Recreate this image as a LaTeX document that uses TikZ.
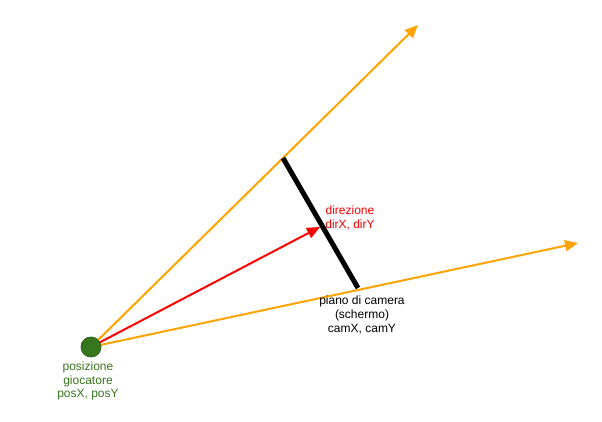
\documentclass[tikz,border=0pt]{standalone}
\usepackage{fontspec}
\setmainfont{Liberation Sans}
\usetikzlibrary{arrows.meta}
\definecolor{ray}{RGB}{255,163,0}
\definecolor{pgreen}{RGB}{56,118,29}
\definecolor{dirred}{RGB}{255,0,0}
\tikzset{
  rayline/.style={draw=ray, line width=2pt, -{Triangle[length=13pt,width=11pt]}},
  dirline/.style={draw=dirred, line width=2pt, -{Triangle[length=13pt,width=11pt]}},
  planeline/.style={draw=black, line width=5pt},
  lbl/.style={align=center, font=\fontsize{12}{13.6}\selectfont, inner sep=0pt},
}
\begin{document}
\begin{tikzpicture}[x=1pt,y=-1pt]
\useasboundingbox (0,0) rectangle (602,422);
\coordinate (t1) at (418,25);
\coordinate (t2) at (578,243);
\coordinate (td) at (320,227);
\coordinate (pa) at (283,158);
\coordinate (pb) at (358,288);
\node[circle, fill=pgreen, draw=pgreen!80!black, line width=0.5pt, minimum size=20pt, inner sep=0pt] (p) at (91,347) {};
\draw[rayline] (p.center) -- (t1);
\draw[rayline] (p.center) -- (t2);
\draw[dirline] (p.center) -- (td);
\node[circle, fill=pgreen, draw=pgreen!80!black, line width=0.5pt, minimum size=20pt, inner sep=0pt] at (p) {};
\draw[planeline] (pa) -- (pb);
\node[lbl, text=dirred] (ld) at (350,218) {direzione\\dirX, dirY};
\node[lbl, text=black] (lc) at (362,315) {piano di camera\\(schermo)\\camX, camY};
\node[lbl, text=pgreen] (lp) at (88,381) {posizione\\giocatore\\posX, posY};
\end{tikzpicture}
\end{document}
